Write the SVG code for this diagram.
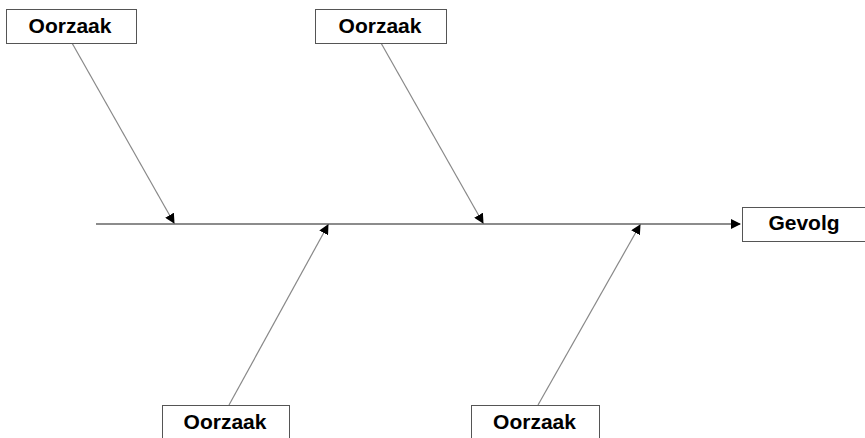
<svg xmlns="http://www.w3.org/2000/svg" width="865" height="438" viewBox="0 0 865 438">
<style>
.box{fill:#fff;stroke:#555;stroke-width:1}
.lbl{font-family:"Liberation Sans",Arial,sans-serif;font-weight:bold;font-size:21px;fill:#000;text-anchor:middle}
.ln{stroke:#888;stroke-width:1.2;fill:none}
.main{stroke:#666;stroke-width:1.3;fill:none}
</style>
<defs>
<marker id="ah" markerWidth="10" markerHeight="10" refX="9" refY="5" orient="auto" markerUnits="userSpaceOnUse">
<path d="M0,0 L10,5 L0,10 Z" fill="#000"/>
</marker>
</defs>
<rect width="865" height="438" fill="#fff"/>
<g id="connectors">
<line class="main" x1="96" y1="224" x2="740" y2="224" marker-end="url(#ah)"/>
<line class="ln" x1="72" y1="43" x2="174" y2="223" marker-end="url(#ah)"/>
<line class="ln" x1="381" y1="43" x2="483" y2="223" marker-end="url(#ah)"/>
<line class="ln" x1="229" y1="405" x2="328" y2="225" marker-end="url(#ah)"/>
<line class="ln" x1="538" y1="405" x2="640" y2="225" marker-end="url(#ah)"/>
</g>
<g id="cause1"><rect class="box" x="6.5" y="9.5" width="130" height="34"/><text class="lbl" x="70" y="32.5">Oorzaak</text></g>
<g id="cause2"><rect class="box" x="315.5" y="9.5" width="131" height="34"/><text class="lbl" x="380" y="32.5">Oorzaak</text></g>
<g id="cause3"><rect class="box" x="162.5" y="405.5" width="127" height="40"/><text class="lbl" x="225" y="428.5">Oorzaak</text></g>
<g id="cause4"><rect class="box" x="471.5" y="405.5" width="128" height="40"/><text class="lbl" x="534.5" y="428.5">Oorzaak</text></g>
<g id="effect"><rect class="box" x="742.5" y="207.5" width="124" height="34"/><text class="lbl" x="804" y="229.5">Gevolg</text></g>
</svg>
